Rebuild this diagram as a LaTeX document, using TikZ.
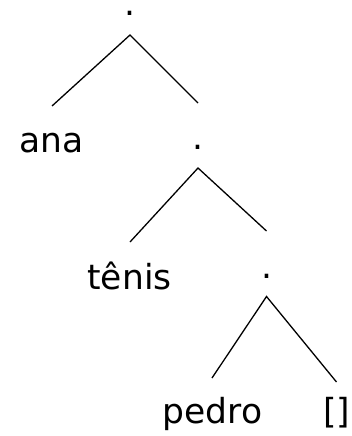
\documentclass[tikz,border=0pt]{standalone}
\usepackage{fontspec}
\setmainfont{DejaVu Sans}
\usetikzlibrary{calc}
\begin{document}
\begin{tikzpicture}[x=1pt,y=-1pt,
  lbl/.style={anchor=base,inner sep=0pt,font=\fontsize{34.5}{40}\selectfont},
  edge/.style={line width=1.3pt}]
\useasboundingbox (0,0) rectangle (351,436);
\node[lbl] (d1) at (130,16) {.};
\node[lbl] (ana) at (51.5,152) {ana};
\node[lbl] (d2) at (198,149) {.};
\node[lbl] (tenis) at (129.5,289) {tênis};
\node[lbl] (d3) at (266.5,278) {.};
\node[lbl] (pedro) at (212.5,423) {pedro};
\node[lbl] (nil) at (336.5,423) {[]};
\draw[edge] ($(ana.base)+(0.5,-46)$) -- ($(d1.base)+(0,19)$) -- ($(d2.base)+(0,-46)$);
\draw[edge] ($(tenis.base)+(0.5,-47)$) -- ($(d2.base)+(0,19)$) -- ($(d3.base)+(0,-47)$);
\draw[edge] ($(pedro.base)+(-0.5,-45)$) -- ($(d3.base)+(0,18.5)$) -- ($(nil.base)+(0,-41)$);
\end{tikzpicture}
\end{document}
